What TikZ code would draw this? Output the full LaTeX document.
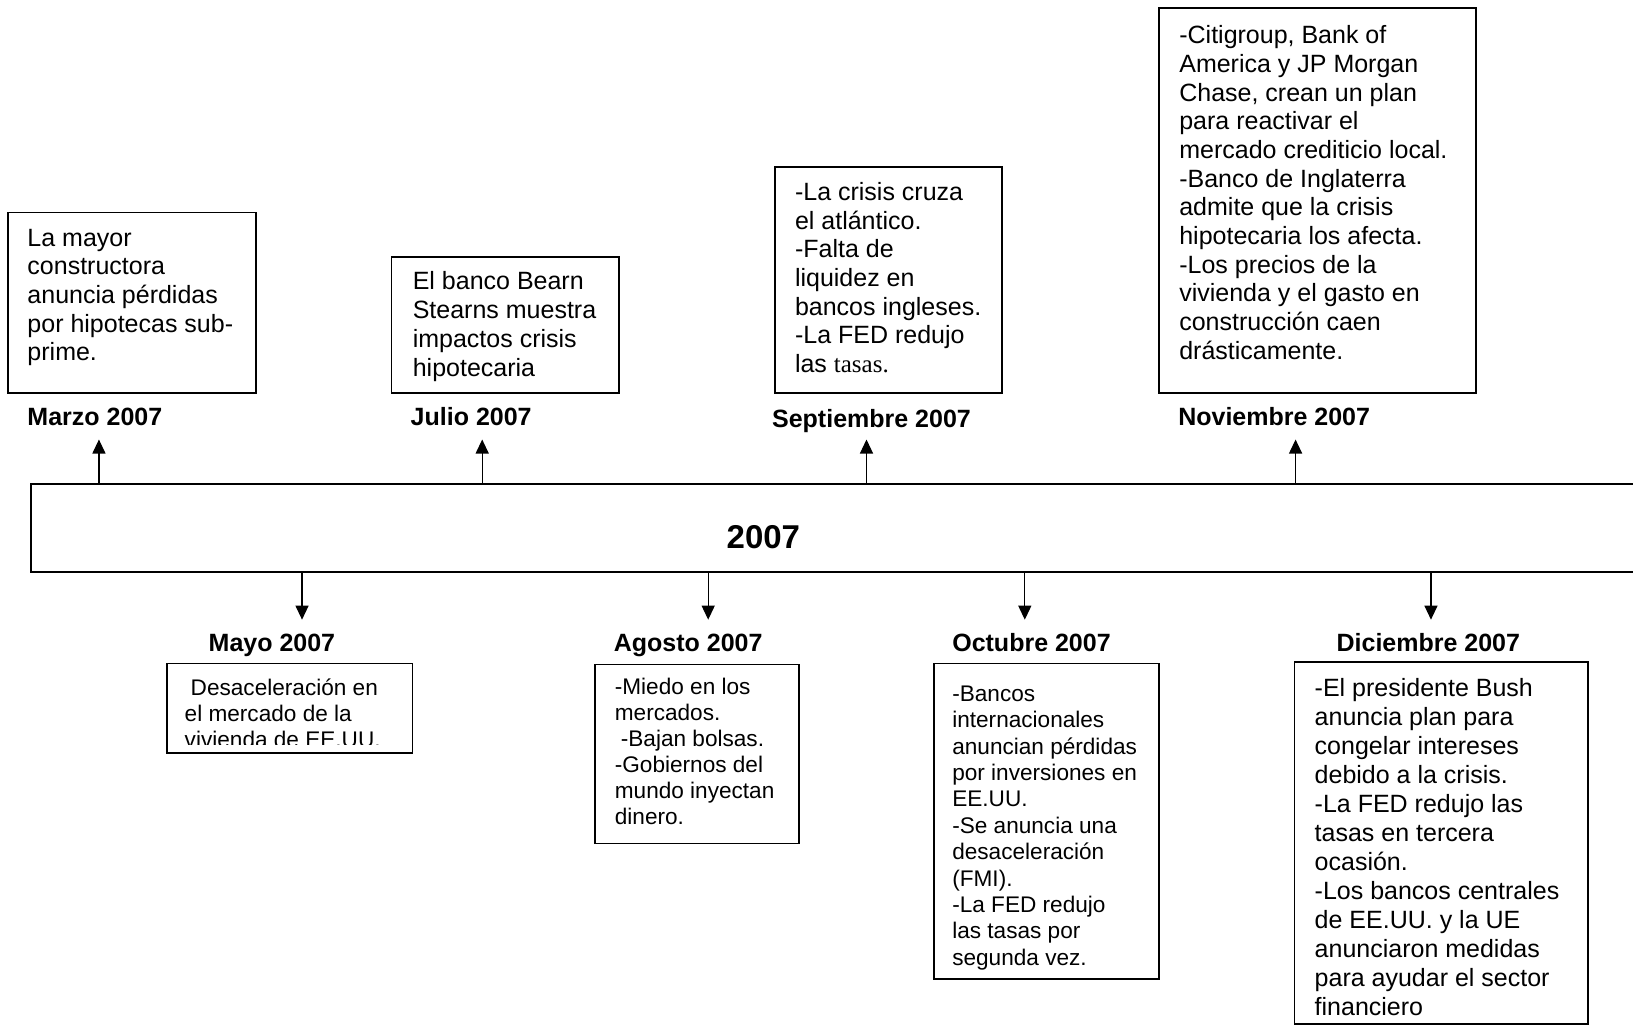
\documentclass[tikz,border=0pt]{standalone}
\usepackage{fontspec}
\setmainfont{Liberation Sans}
\newfontfamily\timesf{Liberation Serif}
\usetikzlibrary{arrows.meta,fit}
\newcommand{\firstln}{\rule{0pt}{10pt}}
\begin{document}
\begin{tikzpicture}[x=0.52074pt,y=-0.52074pt,
  box/.style={draw, line width=0.9pt, inner sep=0pt},
  txtL/.style={anchor=north west, inner sep=0pt, align=left, font=\fontsize{12.5}{14.35}\selectfont},
  txtS/.style={anchor=north west, inner sep=0pt, align=left, font=\fontsize{11.3}{13.0}\selectfont},
  lbl/.style={anchor=base west, inner sep=0pt, font=\fontsize{12.5}{15}\selectfont\bfseries},
  arr/.style={line width=0.6pt, -{Triangle[length=7pt,width=6.5pt]}}]
\useasboundingbox (0,0) rectangle (1568,985);

% central bar
\node[draw, line width=1pt, inner sep=0pt, fit={(30,465) (1600,549)}] (bar) {};
\node[font=\fontsize{16.5}{20}\selectfont\bfseries] (yr) at (733,516) {2007};

% upper boxes
\node[box, fit={(8,204) (246,377)}] (b1) {};
\node[txtL] (t1) at (26,216.8) {\firstln La mayor\\constructora\\anuncia pérdidas\\por hipotecas sub-\\prime.};
\node[lbl] (l1) at (26,409) {Marzo 2007};

\node[box, fit={(376,247) (594,377)}] (b3) {};
\node[txtL] (t3) at (396,258.8) {\firstln El banco Bearn\\Stearns muestra\\impactos crisis\\hipotecaria};
\node[lbl] (l3) at (394,409) {Julio 2007};

\node[box, fit={(744,160) (962,377)}] (b5) {};
\node[txtL] (t5) at (763,172.8) {\firstln -La crisis cruza\\el atlántico.\\-Falta de\\liquidez en\\bancos ingleses.\\-La FED redujo\\las {\timesf tasas.}};
\node[lbl] (l5) at (741,410) {Septiembre 2007};

\node[box, fit={(1113,8) (1417,377)}] (b7) {};
\node[txtL] (t7) at (1132,22.3) {\firstln -Citigroup, Bank of\\America y JP Morgan\\Chase, crean un plan\\para reactivar el\\mercado crediticio local.\\-Banco de Inglaterra\\admite que la crisis\\hipotecaria los afecta.\\-Los precios de la\\vivienda y el gasto en\\construcción caen\\drásticamente.};
\node[lbl] (l7) at (1131,409) {Noviembre 2007};

% lower boxes
\node[lbl] (l2) at (200,626) {Mayo 2007};
\node[box, fit={(160,637) (396,723)}] (b2) {};
\begin{scope}
\clip (160,637) rectangle (396,714.5);
\node[txtS, font=\fontsize{11.3}{13.1}\selectfont] (t2) at (177,647.8) {\firstln\hspace{3pt}Desaceleración en\\el mercado de la\\vivienda de EE.UU.};
\end{scope}

\node[lbl] (l4) at (589,626) {Agosto 2007};
\node[box, fit={(571,638) (767,810)}] (b4) {};
\node[txtS] (t4) at (590,646.8) {\firstln -Miedo en los\\mercados.\\\hspace{3pt}-Bajan bolsas.\\-Gobiernos del\\mundo inyectan\\dinero.};

\node[lbl] (l6) at (914,626) {Octubre 2007};
\node[box, fit={(897,637) (1113,940)}] (b6) {};
\node[txtS, font=\fontsize{11.3}{13.2}\selectfont] (t6) at (914,653.8) {\firstln -Bancos\\internacionales\\anuncian pérdidas\\por inversiones en\\EE.UU.\\-Se anuncia una\\desaceleración\\(FMI).\\-La FED redujo\\las tasas por\\segunda vez.};

\node[lbl] (l8) at (1283,626) {Diciembre 2007};
\node[box, fit={(1243,636) (1525,983)}] (b8) {};
\node[txtL, font=\fontsize{12.5}{14.48}\selectfont] (t8) at (1262,649.5) {\firstln -El presidente Bush\\anuncia plan para\\congelar intereses\\debido a la crisis.\\-La FED redujo las\\tasas en tercera\\ocasión.\\-Los bancos centrales\\de EE.UU. y la UE\\anunciaron medidas\\para ayudar el sector\\financiero};

% arrows up
\coordinate (u1) at (95,422);
\coordinate (u3) at (463,422);
\coordinate (u5) at (832,422);
\coordinate (u7) at (1244,422);
\foreach \c in {u1,u3,u5,u7} \draw[arr] (bar.north -| \c) -- (\c);
% arrows down
\coordinate (d2) at (290,595);
\coordinate (d4) at (680,595);
\coordinate (d6) at (984,595);
\coordinate (d8) at (1374,595);
\foreach \c in {d2,d4,d6,d8} \draw[arr] (bar.south -| \c) -- (\c);
\end{tikzpicture}
\end{document}
